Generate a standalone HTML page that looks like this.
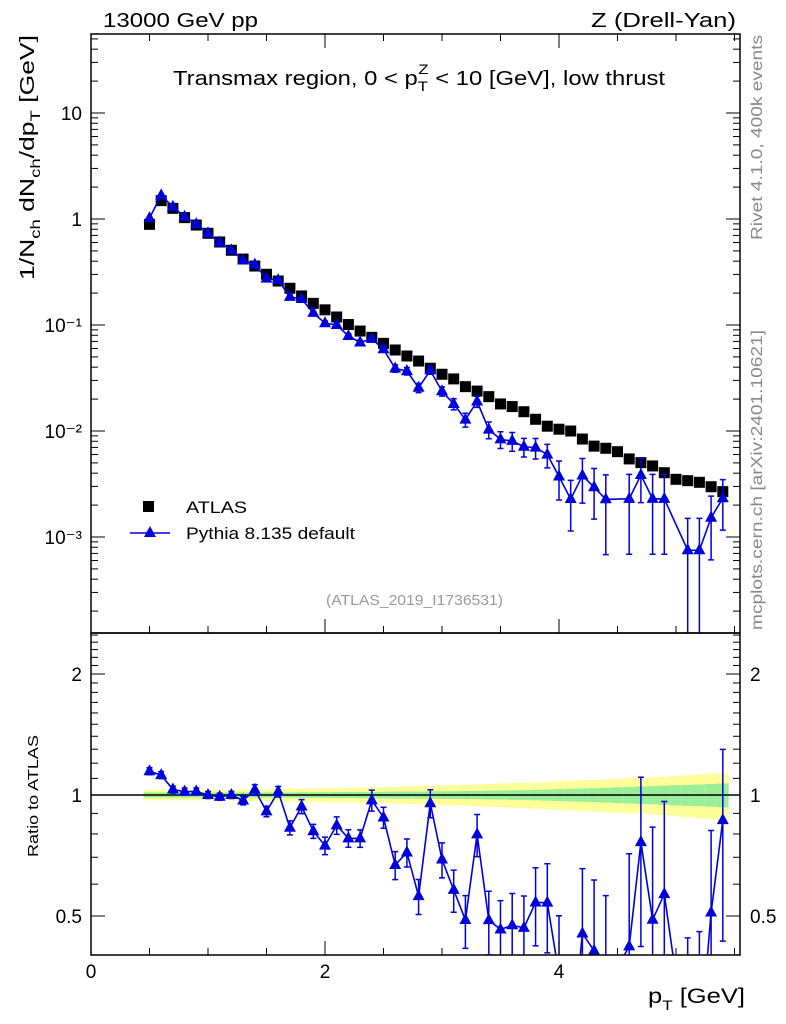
<!DOCTYPE html>
<html><head><meta charset="utf-8"><style>
html,body{margin:0;padding:0;background:#fff;width:786px;height:1024px;overflow:hidden;}
svg{display:block;font-family:"Liberation Sans",sans-serif;}
</style></head><body>
<svg id="chart" width="786" height="1024" viewBox="0 0 786 1024" xmlns="http://www.w3.org/2000/svg">
<g id="bands"></g>
<g id="layer"></g>
<rect x="91" y="34" width="649" height="599" fill="none" stroke="#000" stroke-width="1.5"/>
<rect x="91" y="633" width="649" height="322" fill="none" stroke="#000" stroke-width="1.5"/>
<text x="103" y="27" font-size="20" textLength="155" lengthAdjust="spacingAndGlyphs">13000 GeV pp</text>
<text x="591" y="27" font-size="20" textLength="145" lengthAdjust="spacingAndGlyphs">Z (Drell-Yan)</text>
<text x="173" y="85" font-size="20" textLength="492" lengthAdjust="spacingAndGlyphs">Transmax region, 0 &lt; p<tspan dy="6" font-size="14">T</tspan><tspan dx="-8" dy="-17" font-size="14">Z</tspan><tspan dy="11"> &lt; 10 [GeV], low thrust</tspan></text>
<text transform="translate(34,280) rotate(-90)" font-size="20" textLength="245" lengthAdjust="spacingAndGlyphs">1/N<tspan dy="6" font-size="14">ch</tspan><tspan dy="-6"> dN</tspan><tspan dy="6" font-size="14">ch</tspan><tspan dy="-6">/dp</tspan><tspan dy="6" font-size="14">T</tspan><tspan dy="-6"> [GeV]</tspan></text>
<text transform="translate(38,857) rotate(-90)" font-size="15" textLength="122" lengthAdjust="spacingAndGlyphs">Ratio to ATLAS</text>
<text x="648" y="1003" font-size="21" textLength="97" lengthAdjust="spacingAndGlyphs">p<tspan dy="7" font-size="14">T</tspan><tspan dy="-7"> [GeV]</tspan></text>
<text transform="translate(762,240) rotate(-90)" font-size="16" fill="#888" textLength="205" lengthAdjust="spacingAndGlyphs">Rivet 4.1.0,  400k events</text>
<text transform="translate(762,630) rotate(-90)" font-size="16" fill="#888" textLength="300" lengthAdjust="spacingAndGlyphs">mcplots.cern.ch [arXiv:2401.10621]</text>
<text x="326" y="605" font-size="15" fill="#999" textLength="177" lengthAdjust="spacingAndGlyphs">(ATLAS_2019_I1736531)</text>
<g>
<rect x="143" y="501" width="11" height="11" fill="#000"/>
<text x="186" y="513" font-size="17" textLength="61" lengthAdjust="spacingAndGlyphs">ATLAS</text>
<line x1="130" y1="533" x2="170" y2="533" stroke="#0000dd" stroke-width="1.6"/>
<polygon points="150,526 156,537 144,537" fill="#0000dd"/>
<text x="186" y="539" font-size="17" textLength="169" lengthAdjust="spacingAndGlyphs">Pythia 8.135 default</text>
</g>
</svg>
<script>
const xs = [0.5,0.6,0.7,0.8,0.9,1.0,1.1,1.2,1.3,1.4,1.5,1.6,1.7,1.8,1.9,2.0,2.1,2.2,2.3,2.4,2.5,2.6,2.7,2.8,2.9,3.0,3.1,3.2,3.3,3.4,3.5,3.6,3.7,3.8,3.9,4.0,4.1,4.2,4.3,4.4,4.5,4.6,4.7,4.8,4.9,5.0,5.1,5.2,5.3,5.4];
const atlas = [0.89,1.49,1.26,1.03,0.877,0.733,0.607,0.507,0.419,0.360,0.301,0.260,0.222,0.188,0.160,0.139,0.119,0.101,0.0877,0.0765,0.0671,0.0581,0.0510,0.0457,0.0391,0.0343,0.0310,0.0262,0.0238,0.0211,0.0180,0.0170,0.0152,0.0129,0.0111,0.0104,0.0100,0.0084,0.0072,0.00687,0.00638,0.00545,0.00503,0.00468,0.00404,0.00350,0.00340,0.00328,0.00298,0.00268];
const pythia = [1.02,1.67,1.30,1.05,0.895,0.733,0.601,0.507,0.406,0.371,0.274,0.265,0.184,0.176,0.130,0.104,0.100,0.0788,0.0684,0.0742,0.0590,0.0389,0.0367,0.0256,0.0373,0.0237,0.0180,0.0128,0.0190,0.0103,0.00833,0.00806,0.00710,0.00697,0.00599,0.00372,0.00228,0.00380,0.00295,0.00227,null,0.00229,0.00384,0.00229,0.00229,null,0.00075,0.00075,0.00152,0.00232];
const pythiaRelErr = [0.02,0.02,0.02,0.02,0.02,0.02,0.02,0.02,0.025,0.03,0.03,0.03,0.04,0.04,0.04,0.05,0.05,0.05,0.05,0.06,0.06,0.08,0.08,0.1,0.08,0.1,0.12,0.15,0.12,0.18,0.18,0.2,0.2,0.22,0.25,0.4,0.5,0.45,0.5,0.7,0,0.7,0.45,0.7,0.7,0,1.0,1.0,0.6,0.5];
const bandGreen = [0.015,0.015,0.015,0.015,0.015,0.015,0.015,0.015,0.015,0.015,0.015,0.015,0.015,0.016,0.016,0.016,0.017,0.017,0.018,0.018,0.019,0.02,0.02,0.02,0.021,0.022,0.022,0.023,0.024,0.025,0.026,0.027,0.028,0.03,0.032,0.034,0.036,0.038,0.04,0.042,0.045,0.047,0.05,0.052,0.055,0.058,0.06,0.062,0.065,0.068];
const bandYellow = [0.03,0.03,0.03,0.03,0.03,0.03,0.03,0.03,0.032,0.033,0.034,0.035,0.036,0.037,0.038,0.04,0.041,0.042,0.044,0.045,0.046,0.048,0.05,0.052,0.054,0.056,0.058,0.06,0.062,0.065,0.068,0.07,0.072,0.075,0.078,0.082,0.085,0.088,0.09,0.093,0.096,0.1,0.1,0.105,0.11,0.115,0.12,0.125,0.13,0.135];
const xTicks = [0,2,4];
const mainYTicks = [10,1,0.1,0.01,0.001];
const mainYLabels = ["10","1","10⁻¹","10⁻²","10⁻³"];
const ratioTicks = [0.5,1,2];
const ratioLabels = ["0.5","1","2"];

const NS="http://www.w3.org/2000/svg";
const svg=document.getElementById('chart');
const layer=document.getElementById('layer');
const bands=document.getElementById('bands');
const X0=91,X1=740,MT=34,MB=633,RB=955;
const xPix=v=>91+v*117;
const yMain=v=>219-106*Math.log10(v);
const yRatio=v=>795-121*Math.log2(v);
function mk(tag,attrs,parent){const e=document.createElementNS(NS,tag);for(const k in attrs)e.setAttribute(k,attrs[k]);(parent||layer).appendChild(e);return e;}
const clipM=mk('clipPath',{id:'cm'},svg);mk('rect',{x:X0,y:MT,width:X1-X0,height:MB-MT},clipM);
const clipR=mk('clipPath',{id:'cr'},svg);mk('rect',{x:X0,y:MB,width:X1-X0,height:RB-MB},clipR);
const gM=mk('g',{'clip-path':'url(#cm)'});
const gR=mk('g',{'clip-path':'url(#cr)'});
const half=0.05;
for(let i=0;i<xs.length;i++){
 const xa=xPix(xs[i]-half),xb=xPix(xs[i]+half);
 const y=mk('rect',{x:xa,y:yRatio(1+bandYellow[i]),width:xb-xa,height:yRatio(1-bandYellow[i])-yRatio(1+bandYellow[i]),fill:'#ffff99'},bands);
 
 
 const g=mk('rect',{x:xa,y:yRatio(1+bandGreen[i]),width:xb-xa,height:yRatio(1-bandGreen[i])-yRatio(1+bandGreen[i]),fill:'#99ee99'},bands);
 
 
}
bands.setAttribute('clip-path','url(#cr)');
const rl=mk('line',{x1:X0,x2:X1,y1:yRatio(1),y2:yRatio(1),stroke:'#000','stroke-width':1.5},gR);


function tick(x1,y1,x2,y2){const t=mk('line',{x1,y1,x2,y2,stroke:'#000','stroke-width':1});}
for(let v=0;v<=5.5;v+=0.5){const x=xPix(v);const L=(Math.abs(v%2)<1e-6)?14:7;
 tick(x,MB,x,MB-L);tick(x,MT,x,MT+L);tick(x,RB,x,RB-L);}
xTicks.forEach(v=>{const t=mk('text',{x:xPix(v),y:978,'font-size':19,'text-anchor':'middle'});t.textContent=String(v);});
for(let d=-4;d<=1;d++){for(let m=1;m<=9;m++){const v=m*Math.pow(10,d);const y=yMain(v);if(y<MT||y>MB)continue;const L=m==1?14:7;tick(X0,y,X0+L,y);tick(X1,y,X1-L,y);}}
mainYTicks.forEach((v,i)=>{const t=mk('text',{x:82,y:yMain(v)+7,'font-size':19,'text-anchor':'end'});t.textContent=mainYLabels[i];});
for(let k=4;k<=25;k++){const v=k/10;const y=yRatio(v);if(y<MB||y>RB)continue;const L=(v==0.5||v==1||v==2)?14:7;tick(X0,y,X0+L,y);tick(X1,y,X1-L,y);}
ratioTicks.forEach((v,i)=>{const t=mk('text',{x:82,y:yRatio(v)+7,'font-size':19,'text-anchor':'end'});t.textContent=ratioLabels[i];
 const t2=mk('text',{x:750,y:yRatio(v)+7,'font-size':19});t2.textContent=ratioLabels[i];});
xs.forEach((v,i)=>{const r=mk('rect',{x:xPix(v)-5.5,y:yMain(atlas[i])-5.5,width:11,height:11,fill:'#000'},gM);});
const col='#0000dd';
let pts=[],rpts=[];
xs.forEach((v,i)=>{if(pythia[i]==null)return;pts.push(xPix(v)+','+yMain(pythia[i]));rpts.push(xPix(v)+','+yRatio(pythia[i]/atlas[i]));});
const pl=mk('polyline',{points:pts.join(' '),fill:'none',stroke:col,'stroke-width':1.6},gM);
const rpl=mk('polyline',{points:rpts.join(' '),fill:'none',stroke:col,'stroke-width':1.6},gR);
function tri(g,x,y,name){const p=mk('polygon',{points:`${x},${y-7} ${x+6},${y+4} ${x-6},${y+4}`,fill:col},g);}
function err(g,x,y1,y2){const e=mk('path',{d:`M${x},${y1}V${y2}M${x-3},${y1}H${x+3}M${x-3},${y2}H${x+3}`,stroke:col,'stroke-width':1.5,fill:'none'},g);}
xs.forEach((v,i)=>{if(pythia[i]==null)return;const x=xPix(v);const e=pythiaRelErr[i];const lo=Math.max(pythia[i]*(1-e),1e-6),hi=pythia[i]*(1+e);
 err(gM,x,yMain(hi),yMain(lo));tri(gM,x,yMain(pythia[i]),'pythia-point');
 const r=pythia[i]/atlas[i];err(gR,x,yRatio(hi/atlas[i]),yRatio(lo/atlas[i]));tri(gR,x,yRatio(r),'pythia-ratio-point');});
</script>
</body></html>
